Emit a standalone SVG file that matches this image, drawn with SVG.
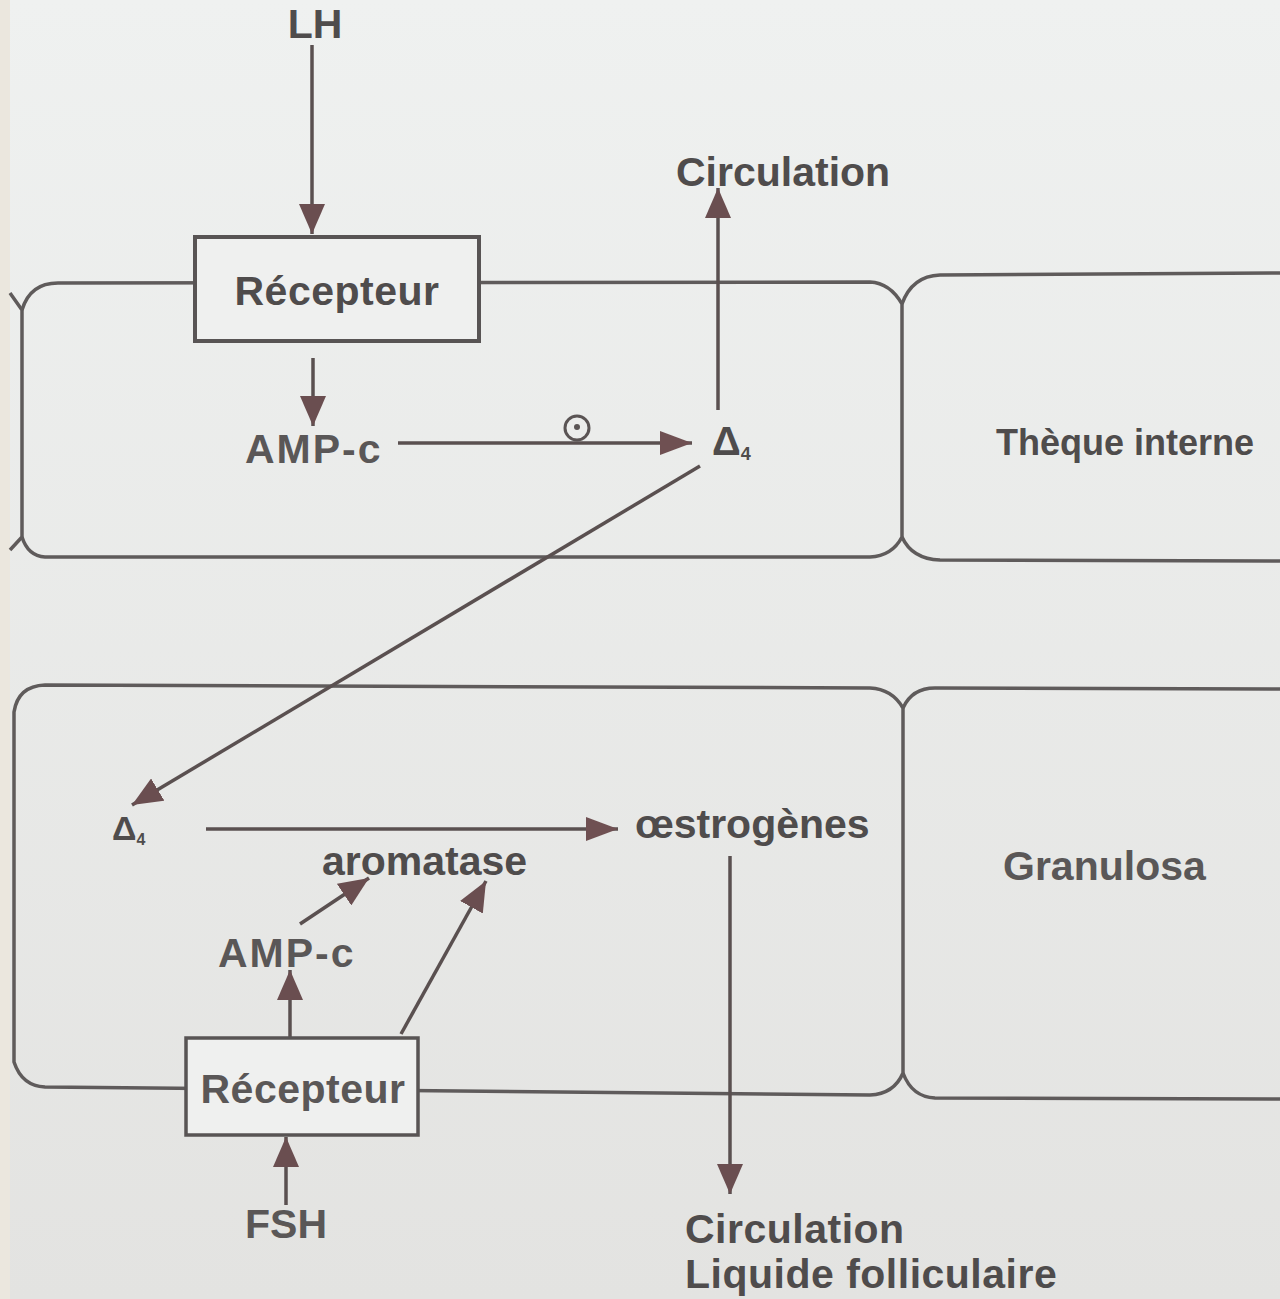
<svg xmlns="http://www.w3.org/2000/svg" width="1280" height="1299" viewBox="0 0 1280 1299">
<defs>
<linearGradient id="bg" x1="0" y1="0" x2="0" y2="1">
<stop offset="0" stop-color="#eff1f0"/>
<stop offset="1" stop-color="#e3e3e1"/>
</linearGradient>
<marker id="ah" markerWidth="30" markerHeight="26" refX="30" refY="13" orient="auto" markerUnits="userSpaceOnUse">
<path d="M0,0 L30,13 L0,26 Z" fill="#6a4e50"/>
</marker>
<marker id="ahs" markerWidth="32" markerHeight="24" refX="32" refY="12" orient="auto" markerUnits="userSpaceOnUse">
<path d="M0,0 L32,12 L0,24 Z" fill="#6f5052"/>
</marker>
<style>
.cell{fill:none;stroke:#5f5b5b;stroke-width:3.5;stroke-linejoin:round}
.box{fill:#eff0ef;stroke:#585454;stroke-width:4}
.conn{fill:none;stroke:#5a5050;stroke-width:3.5}
.t{font-family:"Liberation Sans",Arial,sans-serif;font-weight:bold;font-size:41px;fill:#4f4c4c}
.tl{font-family:"Liberation Sans",Arial,sans-serif;font-weight:bold;font-size:41px;fill:#5a5757}
</style>
</defs>
<rect x="0" y="0" width="1280" height="1299" fill="url(#bg)"/>
<rect x="0" y="0" width="10" height="1299" fill="#ebe7de"/>

<g id="cells">
<path class="cell" d="M10,293 L22,310 L22,537 L10,550"/>
<path class="cell" d="M22,310 Q30,283 58,283 L870,282 Q890,283 902,304 L902,537 Q892,556 870,557 L45,557 Q28,556 22,537"/>
<path class="cell" d="M902,304 Q912,276 940,275 L1280,273"/>
<path class="cell" d="M902,537 Q912,559 940,560 L1280,561"/>
<path class="cell" d="M14,712 Q18,686 45,685 L870,688 Q892,689 903,708 L903,1073 Q894,1094 870,1095 L45,1087 Q22,1086 14,1062 Z"/>
<path class="cell" d="M903,708 Q912,688 935,688 L1280,689"/>
<path class="cell" d="M903,1073 Q912,1097 935,1098 L1280,1099"/>
</g>

<g id="connectors">
<line class="conn" x1="312" y1="45" x2="312" y2="234" marker-end="url(#ah)"/>
<line class="conn" x1="313" y1="358" x2="313" y2="426" marker-end="url(#ah)"/>
<line class="conn" x1="398" y1="443" x2="692" y2="443" marker-end="url(#ahs)"/>
<line class="conn" x1="718" y1="410" x2="718" y2="188" marker-end="url(#ah)"/>
<line class="conn" x1="700" y1="466" x2="132" y2="805" stroke="#6e6565" stroke-width="3" marker-end="url(#ah)"/>
<line class="conn" x1="206" y1="829" x2="618" y2="829" stroke="#6a6464" marker-end="url(#ahs)"/>
<line class="conn" x1="300" y1="924" x2="369" y2="878" marker-end="url(#ah)"/>
<line class="conn" x1="401" y1="1034" x2="486" y2="881" marker-end="url(#ah)"/>
<line class="conn" x1="290" y1="1040" x2="290" y2="970" marker-end="url(#ah)"/>
<line class="conn" x1="286" y1="1205" x2="286" y2="1137" marker-end="url(#ah)"/>
<line class="conn" x1="730" y1="856" x2="730" y2="1194" marker-end="url(#ah)"/>
<circle cx="577" cy="428" r="12" fill="none" stroke="#5a5454" stroke-width="3"/>
<circle cx="577" cy="427" r="3" fill="#5a5454"/>
</g>

<g id="lh"><text class="t" x="315" y="38" text-anchor="middle">LH</text></g>
<g id="recepteur-top">
<rect class="box" x="195" y="237" width="284" height="104"/>
<text class="t" x="337" y="305" text-anchor="middle" letter-spacing="0.5">Récepteur</text>
</g>
<g id="ampc-top"><text class="tl" x="245" y="463" letter-spacing="2">AMP-c</text></g>
<g id="delta4-top"><text class="t" x="712" y="455" style="font-size:40px">Δ<tspan style="font-size:18px" dy="5">4</tspan></text></g>
<g id="circulation-top"><text class="t" x="676" y="186">Circulation</text></g>
<g id="theque"><text class="t" x="996" y="455" style="font-size:36px">Thèque interne</text></g>
<g id="delta4-bottom"><text class="t" x="112" y="840" style="font-size:34px">Δ<tspan style="font-size:16px" dy="5">4</tspan></text></g>
<g id="oestrogenes"><text class="t" x="635" y="838">œstrogènes</text></g>
<g id="aromatase"><text class="t" x="322" y="875">aromatase</text></g>
<g id="ampc-bottom"><text class="tl" x="218" y="967" letter-spacing="2">AMP-c</text></g>
<g id="granulosa"><text class="tl" x="1003" y="880">Granulosa</text></g>
<g id="recepteur-bottom">
<rect class="box" x="186" y="1038" width="232" height="97" style="stroke-width:3.5"/>
<text class="tl" x="303" y="1103" text-anchor="middle" letter-spacing="0.5">Récepteur</text>
</g>
<g id="fsh"><text class="tl" x="286" y="1238" text-anchor="middle">FSH</text></g>
<g id="circulation-bottom">
<text class="t" x="685" y="1243" letter-spacing="0.5">Circulation</text>
<text class="t" x="685" y="1288" letter-spacing="0.5">Liquide folliculaire</text>
</g>
</svg>
